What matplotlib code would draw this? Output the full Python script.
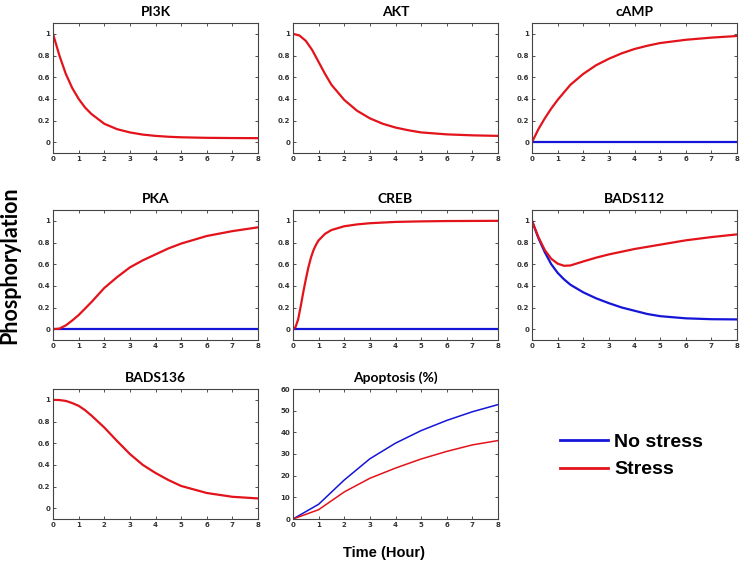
import matplotlib
matplotlib.use('Agg')
import matplotlib.pyplot as plt
from matplotlib.lines import Line2D

RED = '#e3131b'
BLUE = '#1515d8'

t = [0, 0.25, 0.5, 0.75, 1, 1.25, 1.5, 2, 2.5, 3, 3.5, 4, 4.5, 5, 6, 7, 8]

pi3k = [1, 0.8, 0.63, 0.5, 0.4, 0.32, 0.26, 0.17, 0.12, 0.09, 0.07, 0.058, 0.05, 0.045, 0.04, 0.038, 0.037]
akt = [1, 0.985, 0.935, 0.85, 0.74, 0.63, 0.53, 0.39, 0.29, 0.22, 0.17, 0.135, 0.11, 0.09, 0.072, 0.063, 0.058]
camp = [0, 0.12, 0.22, 0.31, 0.39, 0.46, 0.53, 0.63, 0.71, 0.77, 0.82, 0.86, 0.89, 0.915, 0.945, 0.965, 0.98]
pka = [0, 0.005, 0.035, 0.08, 0.13, 0.19, 0.25, 0.38, 0.48, 0.57, 0.635, 0.69, 0.745, 0.79, 0.86, 0.905, 0.94]
bads112_stress = [1, 0.85, 0.73, 0.65, 0.605, 0.585, 0.588, 0.625, 0.66, 0.69, 0.715, 0.74, 0.76, 0.78, 0.82, 0.85, 0.875]
bads112_nostress = [1, 0.84, 0.71, 0.6, 0.52, 0.46, 0.41, 0.34, 0.285, 0.24, 0.2, 0.17, 0.14, 0.12, 0.1, 0.092, 0.09]
bads136 = [1, 0.998, 0.99, 0.97, 0.945, 0.905, 0.855, 0.745, 0.62, 0.5, 0.4, 0.325, 0.26, 0.205, 0.14, 0.105, 0.09]
zeros = [0] * len(t)

t_creb = [0, 0.1, 0.2, 0.3, 0.4, 0.5, 0.6, 0.7, 0.8, 0.9, 1.0, 1.25, 1.5, 2, 2.5, 3, 4, 5, 6, 8]
creb = [0, 0.02, 0.09, 0.21, 0.34, 0.46, 0.57, 0.66, 0.73, 0.78, 0.82, 0.88, 0.915, 0.95, 0.967, 0.978, 0.99, 0.995, 0.998, 1.0]

hours = [0, 1, 2, 3, 4, 5, 6, 7, 8]
apop_nostress = [0, 6.8, 18, 27.8, 35, 40.8, 45.5, 49.5, 52.8]
apop_stress = [0, 4.3, 12.5, 18.8, 23.5, 27.7, 31.2, 34.2, 36.2]

W, H = 743, 565
fig = plt.figure(figsize=(W / 100, H / 100), dpi=100)

lefts = [53, 293, 532]
tops = [23, 210, 389]
aw, ah = 205, 130


def make_ax(row, col, title):
    ax = fig.add_axes([lefts[col] / W, 1 - (tops[row] + ah) / H, aw / W, ah / H])
    ax.set_title(title, fontsize=10, fontweight='bold', family='Lato', pad=5)
    ax.tick_params(direction='in', top=True, right=True, length=2.5, width=0.6,
                   labelsize=5, labelcolor='#333333', color='#333333', pad=2)
    for s in ax.spines.values():
        s.set_color('#444444')
        s.set_linewidth(0.8)
    ax.set_xlim(0, 8)
    ax.set_xticks(range(9))
    return ax


def prob_axis(ax):
    ax.set_ylim(-0.1, 1.1)
    ax.set_yticks([0, 0.2, 0.4, 0.6, 0.8, 1])
    ax.set_yticklabels(['0', '0.2', '0.4', '0.6', '0.8', '1'], fontweight='bold')
    ax.set_xticklabels([str(i) for i in range(9)], fontweight='bold')


ax = make_ax(0, 0, 'PI3K')
ax.plot(t, pi3k, color=RED, lw=1.6)
prob_axis(ax)

ax = make_ax(0, 1, 'AKT')
ax.plot(t, akt, color=RED, lw=1.6)
prob_axis(ax)

ax = make_ax(0, 2, 'cAMP')
ax.plot(t, zeros, color=BLUE, lw=1.6)
ax.plot(t, camp, color=RED, lw=1.6)
prob_axis(ax)

ax = make_ax(1, 0, 'PKA')
ax.plot(t, zeros, color=BLUE, lw=1.6)
ax.plot(t, pka, color=RED, lw=1.6)
prob_axis(ax)

ax = make_ax(1, 1, 'CREB')
ax.plot(t, zeros, color=BLUE, lw=1.6)
ax.plot(t_creb, creb, color=RED, lw=1.6)
prob_axis(ax)

ax = make_ax(1, 2, 'BADS112')
ax.plot(t, bads112_nostress, color=BLUE, lw=1.6)
ax.plot(t, bads112_stress, color=RED, lw=1.6)
prob_axis(ax)

ax = make_ax(2, 0, 'BADS136')
ax.plot(t, bads136, color=RED, lw=1.6)
prob_axis(ax)

ax = make_ax(2, 1, 'Apoptosis (%)')
ax.plot(hours, apop_nostress, color=BLUE, lw=1.1)
ax.plot(hours, apop_stress, color=RED, lw=1.1)
ax.set_ylim(0, 60)
ax.set_yticks(range(0, 61, 10))
ax.set_yticklabels([str(v) for v in range(0, 61, 10)], fontweight='bold')
ax.set_xticklabels([str(i) for i in range(9)], fontweight='bold')

# legend sits in the empty bottom-right slot
handles = [Line2D([], [], color=BLUE, lw=2), Line2D([], [], color=RED, lw=2)]
fig.legend(handles, ['No stress', 'Stress'], loc='center left',
           bbox_to_anchor=(542 / W, 1 - 456 / H), frameon=False,
           handlelength=2.5, handletextpad=0.3, labelspacing=0.5,
           prop={'family': 'Liberation Sans', 'weight': 'bold', 'size': 14})

fig.text(10 / W, 1 - 265 / H, 'Phosphorylation', rotation=90, ha='center', va='center',
         fontsize=15.5, fontweight='bold', family='Lato')
fig.text(384 / W, 1 - 553 / H, 'Time (Hour)', ha='center', va='center',
         fontsize=10.5, fontweight='bold', family='Liberation Sans')

fig.savefig('out.png', dpi=100)
